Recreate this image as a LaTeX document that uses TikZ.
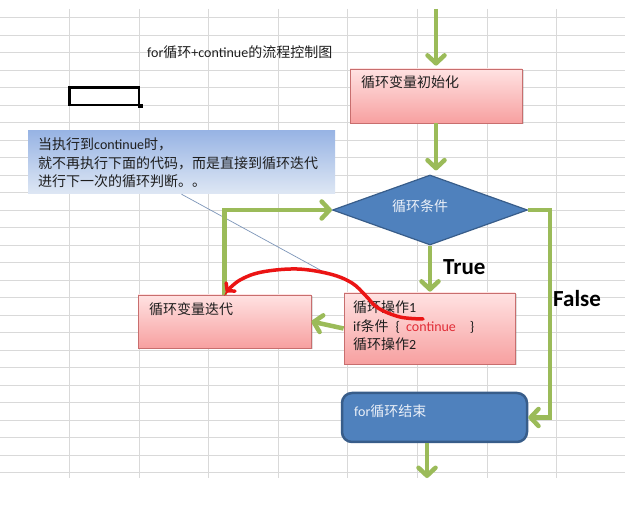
\documentclass[tikz,border=0pt]{standalone}
\usepackage{fontspec}
\setmainfont{Carlito}
\newfontfamily\cjk{Noto Sans CJK SC}
\usetikzlibrary{arrows.meta,shapes.geometric,calc,shadows}
\newcommand{\zh}[1]{{\cjk #1}}

\definecolor{gridgray}{RGB}{217,217,217}
\definecolor{flowgreen}{RGB}{155,187,89}
\definecolor{boxblue}{RGB}{79,129,189}
\definecolor{boxblueline}{RGB}{56,93,138}
\definecolor{pinktop}{RGB}{255,226,226}
\definecolor{pinkbot}{RGB}{247,160,160}
\definecolor{pinkline}{RGB}{200,110,110}
\definecolor{notetop}{RGB}{152,180,228}
\definecolor{notebot}{RGB}{222,231,244}
\definecolor{pointer}{RGB}{125,150,185}
\definecolor{jumpred}{RGB}{235,20,20}
\definecolor{kwred}{RGB}{225,45,55}
\definecolor{lighttext}{RGB}{235,240,248}
\definecolor{darktext}{RGB}{30,30,30}

\tikzset{
  gridline/.style={draw=gridgray, line width=0.9pt},
  pinkbox/.style={draw=pinkline, line width=0.8pt, top color=pinktop, bottom color=pinkbot,
    inner sep=0pt, drop shadow={opacity=0.25, shadow xshift=1.5pt, shadow yshift=-1.5pt}},
  bluebox/.style={draw=boxblueline, fill=boxblue, inner sep=0pt},
  notebox/.style={top color=notetop, bottom color=notebot, inner sep=0pt},
  garrow/.style={draw=flowgreen, line width=4.5pt, -{Straight Barb[length=8pt,width=17pt,round]}},
  jump/.style={draw=jumpred, line width=3.5pt, line cap=round, -{Straight Barb[length=5pt,width=12pt,round]}},
  darklabel/.style={anchor=base west, inner sep=0pt, text=darktext},
  lightlabel/.style={anchor=base west, inner sep=0pt, text=lighttext},
  branchlabel/.style={anchor=base west, inner sep=0pt, text=black, font=\bfseries\fontsize{23}{23}\selectfont},
}

\begin{document}
\begin{tikzpicture}[x=1pt, y=-1pt, font=\fontsize{14}{18}\selectfont]
\useasboundingbox (0,0) rectangle (625,505);
\fill[white] (0,0) rectangle (625,505);

% spreadsheet cell grid
\foreach \gx in {69.5,139,208.6,278.2,347.8,417.4,487,556.6}
  \draw[gridline] (\gx,9) -- (\gx,478);
\foreach \k in {1,...,27}
  \draw[gridline] (0,17.5*\k) -- (625,17.5*\k);

% selected cell
\node[draw=black, line width=2.5pt, minimum width=69.5pt, minimum height=17.5pt, inner sep=0pt] (cell) at (104.25,96.25) {};
\node[fill=black, minimum size=4.5pt, inner sep=0pt] (cellhandle) at (cell.south east) {};

% title
\node[darklabel] (title) at (147,58) {for\zh{循环}+continue\zh{的流程控制图}};

% callout note
\node[notebox, minimum width=307pt, minimum height=63pt] (note) at (181.5,162.5) {};
\coordinate (pointertip) at (322,271);
\draw[draw=pointer, line width=0.7pt] (note.south) -- (pointertip);
\node[darklabel] (note1) at (38,150) {\zh{当执行到}continue\zh{时，}};
\node[darklabel] (note2) at (38,168.5) {\zh{就不再执行下面的代码，而是直接到循环迭代}};
\node[darklabel] (note3) at (38,187) {\zh{进行下一次的循环判断。。}};

% flow shapes
\node[pinkbox, minimum width=172pt, minimum height=54pt] (init) at (436,96) {};
\node[darklabel] (inittext) at (361,88) {\zh{循环变量初始化}};

\node[bluebox, diamond, line width=1.2pt, minimum width=195pt, minimum height=70pt] (cond) at (430,210) {};
\node[lightlabel, anchor=base] (condtext) at (420,212) {\zh{循环条件}};

\node[pinkbox, minimum width=171pt, minimum height=71pt] (op) at (429.5,328.5) {};
\node[darklabel] (op1) at (353,313) {\zh{循环操作}1};
\node[darklabel] (op2) at (353,331.5) {if\zh{条件}\hspace{7pt}\{\hspace{6pt}\textcolor{kwred}{continue}\hspace{14pt}\}};
\node[darklabel] (op3) at (353,350) {\zh{循环操作}2};

\node[pinkbox, minimum width=173pt, minimum height=53pt] (iter) at (224.5,321.5) {};
\node[darklabel] (itertext) at (149,315) {\zh{循环变量迭代}};

\node[bluebox, line width=2.5pt, rounded corners=10pt, minimum width=185pt, minimum height=49pt] (endbox) at (434.5,417.5) {};
\node[lightlabel] (endtext) at (354,417) {for\zh{循环结束}};

% branch labels
\node[branchlabel] (truelabel) at (443,274.5) {True};
\node[branchlabel] (falselabel) at (553,307) {False};

% green flow connectors
\coordinate (entry) at (436,9);
\coordinate (falsecorner) at (550,210);
\coordinate (exit) at (427,478);
\draw[garrow, shorten >=3pt] (entry) -- (init.north);
\draw[garrow, shorten >=4pt] (init.south) -- (init.south |- cond.north);
\draw[garrow, shorten >=1pt] (cond.south) -- (cond.south |- op.north);
\draw[garrow] (op.west) -- (iter.east);
\draw[garrow] (iter.north) |- (cond.west);
\draw[garrow] (cond.east) -- (falsecorner) |- (endbox.east);
\draw[garrow] (endbox.south -| exit) -- (exit);

% continue jump
\coordinate (jumpfrom) at (423,319);
\draw[jump] plot[smooth, tension=0.6] coordinates {(jumpfrom) (400,317) (378,308) (366,296) (352,283) (330,274) (297,269) (262,272) (240,280) (226,292)};
\end{tikzpicture}
\end{document}
